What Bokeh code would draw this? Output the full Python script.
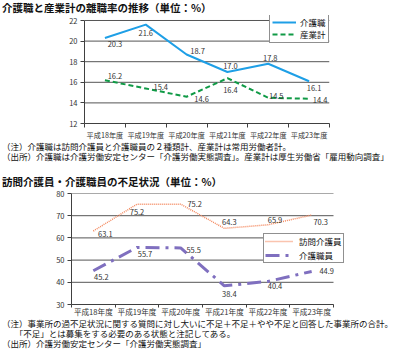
from bokeh.plotting import figure
from bokeh.models import Range1d, FixedTicker, Div
from bokeh.layouts import column
from bokeh.core.properties import value
from bokeh.embed import file_html
from bokeh.resources import INLINE

# ---------------- data ----------------
categories = ["平成18年度", "平成19年度", "平成20年度", "平成21年度", "平成22年度", "平成23年度"]
turnover_care = [20.3, 21.6, 18.7, 17.0, 17.8, 16.1]      # 介護職
turnover_all = [16.2, 15.4, 14.6, 16.4, 14.5, 14.4]       # 産業計
shortage_visit = [63.1, 75.2, 75.2, 64.3, 65.9, 70.3]     # 訪問介護員
shortage_staff = [45.2, 55.7, 55.5, 38.4, 40.4, 44.9]     # 介護職員
y1_ticks = [12, 14, 16, 18, 20, 22]
y2_ticks = [30, 40, 50, 60, 70, 80]

title1 = "介護職と産業計の離職率の推移（単位：%）"
title2 = "訪問介護員・介護職員の不足状況（単位：%）"
notes1 = ["（注）介護職は訪問介護員と介護職員の２種類計、産業計は常用労働者計。",
          "（出所）介護職は介護労働安定センター「介護労働実態調査」。産業計は厚生労働省「雇用動向調査」"]
notes2 = ["（注）事業所の過不足状況に関する質問に対し大いに不足＋不足＋やや不足と回答した事業所の合計。",
          "　　「不足」とは募集をする必要のある状態と注記してある。",
          "（出所）介護労働安定センター「介護労働実態調査」"]

# label placement (screen-pixel offsets, layout only)
off_care = [(10, 6), (0, 8), (11, -3), (3, -6), (2, -6), (5, 7)]
off_all = [(10, -4), (15, -1), (15, 2), (3, 12), (8, -2), (11, 1)]
off_visit = [(12, 3), (0, 8), (14, 0), (5, -6), (7, -5), (9, 7)]
off_staff = [(8, 6), (8, 7), (13, 2), (5, 8), (7, 5), (15, 0)]

FONT = "Noto Sans CJK JP"
NOTE_FONT = "'Liberation Sans','Noto Sans CJK JP'"
xs = list(range(len(categories)))
x_lo, x_hi = -0.5, len(categories) - 0.5


def div(html, h, style=""):
    return Div(text=f'<div style="color:#111;white-space:nowrap;{style}">{html}</div>',
               width=400, height=h, margin=0)


def make_fig(fw, fh, top, x_end, yr, yticks, xlab_size, xlab_standoff, xtick, margin):
    p = figure(frame_width=fw, frame_height=fh, x_range=Range1d(x_lo, x_end), y_range=Range1d(yr[0], yr[1]),
               output_backend="svg", toolbar_location=None,
               min_border_top=top, min_border_bottom=0, min_border_left=84, min_border_right=40,
               margin=margin)
    p.outline_line_color = None
    p.xgrid.visible = False
    p.ygrid.visible = False
    # horizontal gridlines limited to the category span
    n = len(yticks)
    p.segment(x0=[x_lo] * n, y0=yticks, x1=[x_hi] * n, y1=yticks, line_color="#555555", line_width=1)
    xa = p.xaxis[0]
    xa.bounds = (x_lo, x_hi)
    xa.ticker = FixedTicker(ticks=xs, minor_ticks=[i - 0.5 for i in range(len(categories) + 1)])
    xa.major_label_overrides = {i: c for i, c in enumerate(categories)}
    xa.major_tick_out = 0
    xa.major_tick_in = 0
    xa.minor_tick_out = xtick
    xa.minor_tick_in = 0
    xa.minor_tick_line_color = "#404040"
    xa.axis_line_color = "#404040"
    xa.major_label_text_font = FONT
    xa.major_label_text_font_size = xlab_size
    xa.major_label_text_color = "#333333"
    xa.major_label_standoff = xlab_standoff
    ya = p.yaxis[0]
    ya.bounds = (yticks[0], yticks[-1])
    ya.ticker = FixedTicker(ticks=yticks)
    ya.major_tick_out = 4
    ya.major_tick_in = 0
    ya.minor_tick_line_color = None
    ya.axis_line_color = "#404040"
    ya.major_tick_line_color = "#404040"
    ya.major_label_text_font = FONT
    ya.major_label_text_font_size = "7.5px"
    ya.major_label_text_color = "#333333"
    ya.major_label_standoff = 3
    return p


def add_labels(p, vals, offs):
    p.text(x=xs, y=vals, text=[f"{v:.1f}" for v in vals],
           x_offset=[o[0] for o in offs], y_offset=[o[1] for o in offs],
           text_font=value(FONT), text_font_size="7.5px", text_color="#333333",
           text_align="center", text_baseline="middle")


def style_legend(p, loc, gw, pad, spacing, standoff):
    lg = p.legend[0]
    lg.location = loc
    lg.border_line_color = "#222222"
    lg.border_line_width = 1
    lg.background_fill_color = "white"
    lg.background_fill_alpha = 1
    lg.label_text_font = FONT
    lg.label_text_font_size = "8.5px"
    lg.label_text_line_height = 1.0
    lg.label_text_color = "#111111"
    lg.glyph_width = gw
    lg.glyph_height = 10
    lg.label_height = 10
    lg.label_standoff = standoff
    lg.padding = pad
    lg.spacing = spacing
    lg.margin = 0


# ---------- chart 1 ----------
p1 = make_fig(245, 108, 1, x_hi, (12, 22.485), y1_ticks, "7.2px", 2, 4, (0, 0, -2, 0))
p1.line(xs, turnover_care, line_color="#1E9FE6", line_width=2, legend_label="介護職")
p1.line(xs, turnover_all, line_color="#109A46", line_width=2, line_dash="5 3", legend_label="産業計")
add_labels(p1, turnover_care, off_care)
add_labels(p1, turnover_all, off_all)
style_legend(p1, (185, 80), 24, 2, 0, 4)

# ---------- chart 2 ----------
p2 = make_fig(274, 111, 6, x_lo + 274 / (262 / len(categories)), (30, 80), y2_ticks, "7.6px", -2, 3,
              (0, 0, -2, -13))
p2.line(xs, shortage_visit, line_color="#F4895F", line_width=1.5, line_dash="1 1", legend_label="訪問介護員")
p2.line(xs, shortage_staff, line_color="#7F6FBF", line_width=3, line_dash="14 6 3 6", legend_label="介護職員")
add_labels(p2, shortage_visit, off_visit)
add_labels(p2, shortage_staff, off_staff)
style_legend(p2, (192, 41), 28, 1, 2, 6)

title_style = f"font-family:'{FONT}';font-size:10.5px;font-weight:bold;line-height:14px;padding-left:2px;"
note_style = f"font-family:{NOTE_FONT};font-size:8.5px;line-height:10px;padding-top:2px;padding-left:2px;"
t1 = div(title1, 14, title_style)
n1 = div("<br>".join(notes1), 22, note_style)
t2 = div(title2, 25, title_style + "padding-top:13px;")
n2 = div("<br>".join(notes2), 32, note_style)

layout = column(t1, p1, n1, t2, p2, n2, spacing=0, margin=0)
open("out.html", "w").write(file_html(layout, INLINE))
